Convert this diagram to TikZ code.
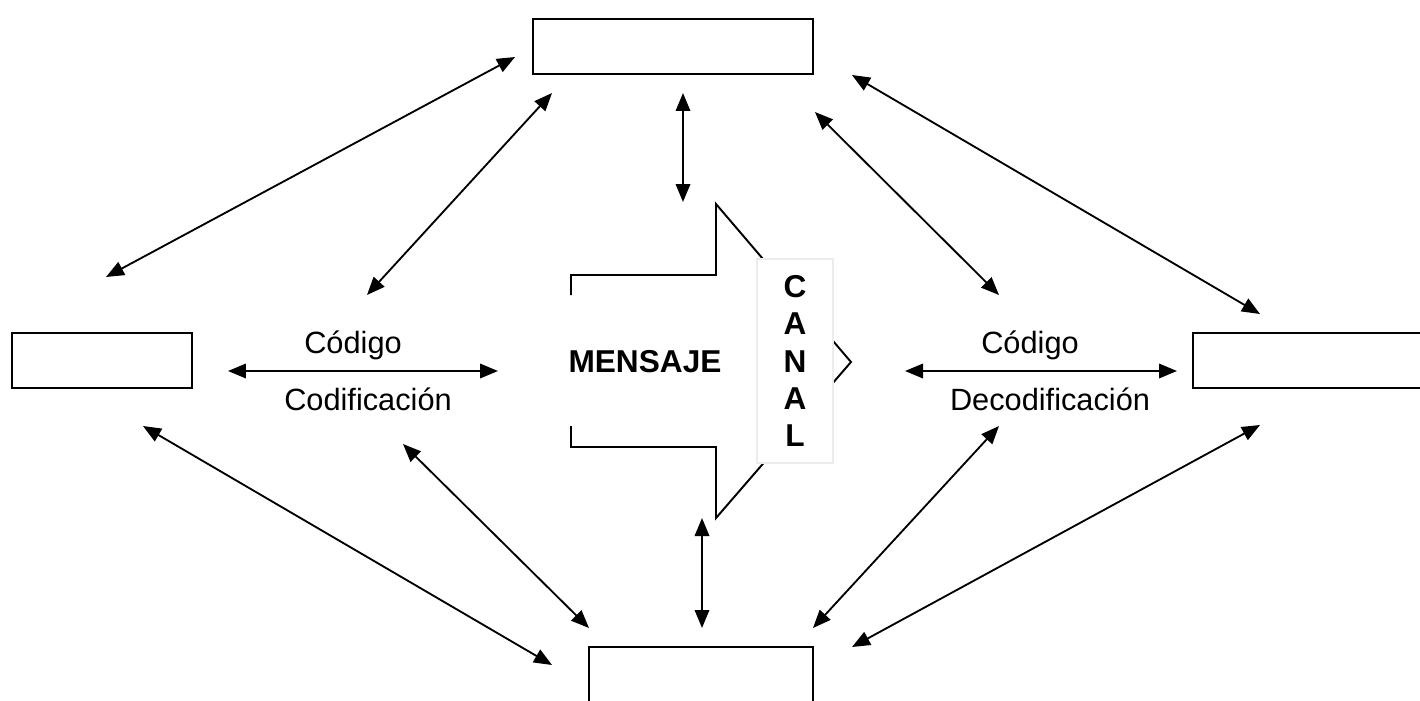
\documentclass[tikz,border=0pt]{standalone}
\usepackage{fontspec}
\setmainfont{Liberation Sans}
\usetikzlibrary{arrows.meta}

\begin{document}
\begin{tikzpicture}[x=0.02cm, y=-0.02cm,
    caja/.style={draw, line width=1.2pt, inner sep=0pt},
    flecha/.style={{Triangle[length=0.36cm,width=0.29cm]}-{Triangle[length=0.36cm,width=0.29cm]}, line width=1.05pt},
    etiqueta/.style={font=\fontsize{17.5}{20}\selectfont, anchor=base},
    negrita/.style={font=\fontsize{18}{21}\selectfont\bfseries}]
    \useasboundingbox (0,0) rectangle (1420,700);

    % cajas
    \node[caja, minimum width=5.6cm, minimum height=1.1cm] (contexto) at (673,46.5) {};
    \node[caja, minimum width=3.6cm, minimum height=1.1cm] (emisor) at (102,360.5) {};
    \node[caja, minimum width=5cm, minimum height=1.1cm] (receptor) at (1318,360.5) {};
    \node[caja, minimum width=4.48cm, minimum height=1.6cm] (referente) at (701,687) {};

    % flecha grande
    \draw[line width=1.1pt] (571,295) -- (571,275) -- (716,275) -- (716,204) -- (851,362)
        -- (716,518) -- (716,447) -- (571,447) -- (571,426);
    \node[negrita] (mensaje) at (645,362) {MENSAJE};
    \node[draw=gray!15, line width=0.8pt, fill=white, minimum width=1.52cm, minimum height=4.08cm,
        align=center, negrita, font=\fontsize{18}{21.3}\selectfont\bfseries] (canal) at (795,361) {C\\A\\N\\A\\L};

    % textos
    \node[etiqueta] (cod1) at (353,353) {Código};
    \node[etiqueta] (codif) at (368,410) {Codificación};
    \node[etiqueta] (cod2) at (1030,353) {Código};
    \node[etiqueta] (decodif) at (1050,410) {Decodificación};

    % extremos
    \coordinate (a1) at (106,277);  \coordinate (b1) at (515,57);
    \coordinate (a2) at (367,295);  \coordinate (b2) at (552,93);
    \coordinate (a3) at (683,93);   \coordinate (b3) at (683,202);
    \coordinate (a4) at (815,112);  \coordinate (b4) at (999,295);
    \coordinate (a5) at (852,75);   \coordinate (b5) at (1260,314);
    \coordinate (a6) at (228,371);  \coordinate (b6) at (498,371);
    \coordinate (a7) at (905,371);  \coordinate (b7) at (1177,371);
    \coordinate (a8) at (143,426);  \coordinate (b8) at (552,665);
    \coordinate (a9) at (403,444);  \coordinate (b9) at (589,628);
    \coordinate (a10) at (702,518); \coordinate (b10) at (702,628);
    \coordinate (a11) at (999,426); \coordinate (b11) at (813,628);
    \coordinate (a12) at (1260,425); \coordinate (b12) at (852,647);

    \foreach \i in {1,...,12}
        \draw[flecha] (a\i) -- (b\i);
\end{tikzpicture}
\end{document}
